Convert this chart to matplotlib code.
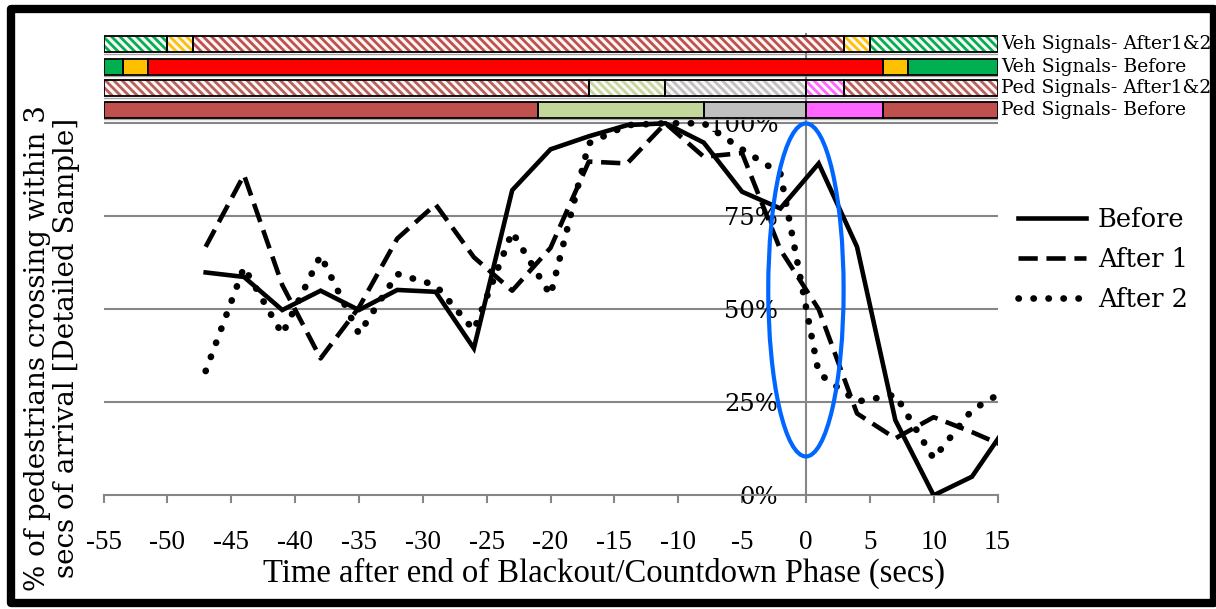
import matplotlib
matplotlib.use("Agg")
import matplotlib.pyplot as plt
from matplotlib.patches import Ellipse, Rectangle
from matplotlib.ticker import FuncFormatter

# time (secs) after end of blackout/countdown phase
t = [-47, -44, -41, -38, -35, -32, -29, -26, -23, -20, -17, -14, -11,
     -8, -5, -2, 1, 4, 7, 10, 13, 16]

# % of pedestrians crossing within 3 secs of arrival
before = [59.9, 58.7, 49.8, 55.0, 49.8, 55.2, 54.7, 39.5, 82.0, 93.0, 96.5,
          99.5, 100.0, 94.8, 81.6, 77.1, 89.2, 66.8, 20.2, 0.0, 5.0, 20.0]
after1 = [66.8, 86.1, 56.5, 36.8, 50.5, 69.0, 78.2, 64.0, 55.0, 66.5, 89.7,
          89.2, 100.0, 91.0, 92.0, 66.0, 50.0, 22.0, 15.3, 21.0, 17.0, 12.5]
after2 = [33.4, 61.3, 43.3, 64.5, 43.4, 59.5, 56.5, 44.4, 70.8, 53.8, 94.6,
          99.5, 100.0, 100.0, 93.0, 86.5, 32.8, 25.2, 27.0, 9.9, 22.9, 29.0]

series_names = ["Before", "After 1", "After 2"]

# signal phase bars (segment edges in secs)
veh_after_edges = [-55, -50, -48, 3, 5, 15]
veh_after_cols = ["#00B050", "#FFC000", "#C0504D", "#FFC000", "#00B050"]
veh_before_edges = [-55, -53.5, -51.5, 6, 8, 15]
veh_before_cols = ["#00B050", "#FFC000", "#FF0000", "#FFC000", "#00B050"]
ped_after_edges = [-55, -17, -11, 0, 3, 15]
ped_after_cols = ["#B9605C", "#C4D79B", "#BFBFBF", "#FF66FF", "#B9605C"]
ped_before_edges = [-55, -21, -8, 0, 6, 15]
ped_before_cols = ["#C0504D", "#C4D79B", "#BFBFBF", "#FF66FF", "#C0504D"]
signal_labels = ["Veh Signals- After1&2", "Veh Signals- Before",
                 "Ped Signals- After1&2", "Ped Signals- Before"]
signal_rows = [121.2, 115.2, 109.4, 103.6]
row_h = 4.3

# highlight ellipse around t=0
ell_center = (0, 55.2)
ell_w, ell_h = 5.9, 89.5

W, H = 1216, 609
plt.rcParams['hatch.linewidth'] = 2.0
plt.rcParams['axes.unicode_minus'] = False
fig = plt.figure(figsize=(W / 100, H / 100), dpi=100)
ax = fig.add_axes([103.5 / W, (H - 495.3) / H, 894 / W, 461.3 / H])

ax.set_xlim(-55, 15)
ax.set_ylim(0, 124)

grey = "#868686"
for s in ['top', 'right']:
    ax.spines[s].set_visible(False)
ax.spines['left'].set_position(('data', 0))
ax.spines['left'].set_color(grey)
ax.spines['left'].set_linewidth(1.5)
ax.spines['bottom'].set_color(grey)
ax.spines['bottom'].set_linewidth(1.5)

ax.set_yticks([0, 25, 50, 75, 100])
ax.yaxis.set_major_formatter(FuncFormatter(lambda v, p: "%d%%" % v))
ax.tick_params(axis='y', length=0, pad=20, labelsize=17.5)
for lab in ax.get_yticklabels():
    lab.set_family("DejaVu Serif")
ax.set_xticks(range(-55, 16, 5))
ax.tick_params(axis='x', direction='out', length=6, width=1.5, color=grey,
               pad=19, labelsize=19.5)
for lab in ax.get_xticklabels():
    lab.set_family("Liberation Serif")

for yv in [25, 50, 75, 100]:
    ax.axhline(yv, color=grey, lw=1.5, zorder=1)

# signal bars
rows = [(veh_after_edges, veh_after_cols, True),
        (veh_before_edges, veh_before_cols, False),
        (ped_after_edges, ped_after_cols, True),
        (ped_before_edges, ped_before_cols, False)]
for (edges, cols, hatched), yr in zip(rows, signal_rows):
    lefts = edges[:-1]
    widths = [b - a for a, b in zip(edges[:-1], edges[1:])]
    if hatched:
        ax.barh([yr] * len(lefts), widths, left=lefts, height=row_h,
                color="#FBF6F6", edgecolor=cols, hatch="\\\\\\\\", lw=0,
                zorder=3)
    else:
        ax.barh([yr] * len(lefts), widths, left=lefts, height=row_h,
                color=cols, lw=0, zorder=3)
    ax.barh([yr] * len(lefts), widths, left=lefts, height=row_h,
            fill=False, edgecolor="black", lw=1.3, zorder=4)
    ax.plot([-55, 15], [yr - row_h / 2 - 0.4] * 2, color="#A6A6A6", lw=1,
            zorder=2)

for lab, yr in zip(signal_labels, signal_rows):
    ax.text(15.25, yr, lab, ha='left', va='center', fontsize=13.5,
            family="DejaVu Serif", clip_on=False)

l1, = ax.plot(t, before, color='black', lw=3.3, zorder=5,
              solid_joinstyle='miter')
l2, = ax.plot(t, after1, color='black', lw=3.3, zorder=5,
              linestyle=(0, (4.2, 1.9)))
l3, = ax.plot(t, after2, color='black', lw=4.8, zorder=5,
              linestyle=(0, (0.05, 2.2)), dash_capstyle='round')

ax.add_patch(Ellipse(ell_center, ell_w, ell_h, fill=False,
                     edgecolor="#0066FF", lw=3, zorder=6))

leg = ax.legend([l1, l2, l3], series_names, loc='upper left',
                bbox_to_anchor=(1018 / W, 1 - 207 / H),
                bbox_transform=fig.transFigure, frameon=False,
                borderpad=0, borderaxespad=0, handlelength=2.65,
                handletextpad=0.45, labelspacing=0.58,
                prop={'family': 'DejaVu Serif', 'size': 18.5})

ax.set_xlabel("Time after end of Blackout/Countdown Phase (secs)",
              family="Liberation Serif", fontsize=23.5, labelpad=0)
ax.xaxis.set_label_coords((604 - 103.5) / 894, -(573 - 495.3) / 461.3)
ax.xaxis.label.set_va('center')

fig.text(52 / W, 1 - 348 / H,
         "% of pedestrians crossing within 3\nsecs of arrival [Detailed Sample]",
         rotation=90, ha='center', va='center', fontsize=20,
         family="DejaVu Serif", linespacing=1.08)

fig.patches.append(Rectangle((11 / W, 1 - 603 / H), 1203 / W, 594 / H,
                             transform=fig.transFigure, fill=False,
                             edgecolor='black', lw=6, joinstyle='round'))

fig.savefig("out.png", dpi=100)
